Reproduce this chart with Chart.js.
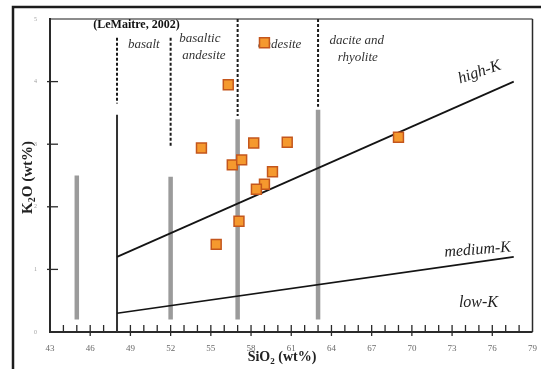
<!DOCTYPE html>
<html>
<head>
<meta charset="utf-8">
<script src="https://cdn.jsdelivr.net/npm/chart.js@4/dist/chart.umd.min.js"></script>
<style>
  html, body { margin: 0; padding: 0; background: #fff; }
  canvas { display: block; }
</style>
</head>
<body>
<canvas id="c" width="541" height="369"></canvas>
<script>
// Sample analyses: SiO2 vs K2O (wt%)
const sampleSiO2 = [59.0, 56.3, 54.3, 58.2, 60.7, 56.6, 57.3, 59.6, 59.0, 58.4, 57.1, 69.0, 55.4];
const sampleK2O  = [4.62, 3.95, 2.94, 3.02, 3.03, 2.67, 2.75, 2.56, 2.36, 2.28, 1.77, 3.11, 1.40];

// Series boundaries (straight segments)
const highKSiO2 = [48, 77.6];
const highKK2O  = [1.2, 4.0];
const mediumKSiO2 = [48, 77.6];
const mediumKK2O  = [0.3, 1.2];

// Rock-name field dividers (dashed part)
const dividerSiO2   = [48, 52, 57, 63];
const dividerTopK2O = [4.7, 4.7, 5.0, 5.0];
const dividerLowK2O = [3.65, 2.97, 3.45, 3.6];

// Solid divider below the basalt field edge
const baseLineSiO2 = [48];
const baseLineTopK2O = [3.47];

// Grey reference bars
const barSiO2   = [45, 52, 57, 63];
const barLowK2O = [0.2, 0.2, 0.2, 0.2];
const barTopK2O = [2.5, 2.48, 3.4, 3.55];

// Axis tick labels
const xTickLabels = [43, 46, 49, 52, 55, 58, 61, 64, 67, 70, 73, 76, 79];
const yTickLabels = [0, 1, 2, 3, 4, 5];

// Field and series names
const fieldNames = ['(LeMaitre, 2002)', 'basalt', 'basaltic', 'andesite', 'andesite', 'dacite and', 'rhyolite', 'high-K', 'medium-K', 'low-K'];

const SERIF = '"Liberation Serif", "DejaVu Serif", serif';

// where each name sits, in data units, with its font and rotation
const fieldLayout = [
  { x: 49.45, y: 4.90, font: 'bold 12px ' + SERIF, rot: 0, color: '#111' },
  { x: 50.0,  y: 4.585, font: 'italic 13px ' + SERIF, rot: 0, color: '#333' },
  { x: 54.18, y: 4.68, font: 'italic 13px ' + SERIF, rot: 0, color: '#333' },
  { x: 54.48, y: 4.42, font: 'italic 13px ' + SERIF, rot: 0, color: '#333' },
  { x: 60.14, y: 4.585, font: 'italic 13px ' + SERIF, rot: 0, color: '#333' },
  { x: 65.88, y: 4.66, font: 'italic 13px ' + SERIF, rot: 0, color: '#333' },
  { x: 65.96, y: 4.39, font: 'italic 13px ' + SERIF, rot: 0, color: '#333' },
  { x: 75.05, y: 4.15, font: 'italic 16px ' + SERIF, rot: -0.33, color: '#222' },
  { x: 74.9,  y: 1.31, font: 'italic 16px ' + SERIF, rot: -0.08, color: '#222' },
  { x: 74.97, y: 0.46, font: 'italic 16px ' + SERIF, rot: 0, color: '#222' }
];

function seg(xs, ys) { return xs.map((v, i) => ({ x: v, y: ys[i] })); }

const datasets = [];
datasets.push({
  label: 'samples',
  data: seg(sampleSiO2, sampleK2O),
  pointStyle: 'rect',
  pointRadius: 7,
  backgroundColor: '#f5992e',
  borderColor: '#c4561c',
  borderWidth: 1.5
});
[[highKSiO2, highKK2O], [mediumKSiO2, mediumKK2O]].forEach(([xs, ys]) => {
  datasets.push({ data: seg(xs, ys), showLine: true, pointRadius: 0, borderColor: '#141414', borderWidth: 1.7, fill: false });
});
dividerSiO2.forEach((v, i) => {
  datasets.push({ data: [{ x: v, y: dividerTopK2O[i] }, { x: v, y: dividerLowK2O[i] }], showLine: true, pointRadius: 0,
    borderColor: '#1a1a1a', borderWidth: 2, borderDash: [3, 2], fill: false });
});
baseLineSiO2.forEach((v, i) => {
  datasets.push({ data: [{ x: v, y: 0 }, { x: v, y: baseLineTopK2O[i] }], showLine: true, pointRadius: 0,
    borderColor: '#333', borderWidth: 2, fill: false });
});
barSiO2.forEach((v, i) => {
  datasets.push({ data: [{ x: v, y: barLowK2O[i] }, { x: v, y: barTopK2O[i] }], showLine: true, pointRadius: 0,
    borderColor: '#9b9b9b', borderWidth: 4.5, borderCapStyle: 'butt', fill: false });
});

function subText(ctx, parts, cx, cy, size) {
  // parts: [text, isSub]
  const widths = parts.map(([t, sub]) => {
    ctx.font = 'bold ' + (sub ? Math.round(size * 0.65) : size) + 'px ' + SERIF;
    return ctx.measureText(t).width;
  });
  const total = widths.reduce((a, b) => a + b, 0);
  let xx = cx - total / 2;
  parts.forEach(([t, sub], i) => {
    ctx.font = 'bold ' + (sub ? Math.round(size * 0.65) : size) + 'px ' + SERIF;
    ctx.fillText(t, xx, cy + (sub ? size * 0.3 : 0));
    xx += widths[i];
  });
}

const decor = {
  id: 'decor',
  beforeDatasetsDraw(chart) {
    const { ctx, scales: { x, y } } = chart;
    const L = x.getPixelForValue(43), R = x.getPixelForValue(79);
    const T = y.getPixelForValue(5), B = y.getPixelForValue(0);
    const line = (a, b, c, d) => { ctx.beginPath(); ctx.moveTo(a, b); ctx.lineTo(c, d); ctx.stroke(); };
    ctx.save();
    // outer frame
    ctx.strokeStyle = '#1c1c1c'; ctx.lineWidth = 2.5;
    ctx.beginPath(); ctx.moveTo(13, 369); ctx.lineTo(13, 7); ctx.lineTo(541, 7); ctx.stroke();
    // plot frame
    ctx.strokeStyle = '#8c8c8c'; ctx.lineWidth = 2; line(L, T, R, T);
    ctx.strokeStyle = '#2a2a2a'; ctx.lineWidth = 1.5; line(R, T, R, B);
    ctx.lineWidth = 2; line(L, T - 1, L, B + 1); line(L - 1, B, R, B);
    // tick marks
    ctx.lineWidth = 1.3;
    for (let v = 44; v < 79; v++) {
      const px = x.getPixelForValue(v);
      const major = (v - 43) % 3 === 0;
      line(px, B - 7, px, B + (major ? 4 : 0));
    }
    for (let v = 1; v < 5; v++) {
      const py = y.getPixelForValue(v);
      line(L - 3, py, L + 8, py);
    }
    // field and series names
    ctx.textAlign = 'center'; ctx.textBaseline = 'middle';
    fieldNames.forEach((t, i) => {
      const f = fieldLayout[i];
      ctx.save();
      ctx.translate(x.getPixelForValue(f.x), y.getPixelForValue(f.y));
      ctx.rotate(f.rot);
      ctx.font = f.font; ctx.fillStyle = f.color;
      ctx.fillText(t, 0, 0);
      ctx.restore();
    });
    // axis titles
    ctx.fillStyle = '#222'; ctx.textAlign = 'left'; ctx.textBaseline = 'middle';
    subText(ctx, [['SiO', false], ['2', true], [' (wt%)', false]], 282, 357, 14);
    ctx.save();
    ctx.translate(28, (T + B) / 2 + 2);
    ctx.rotate(-Math.PI / 2);
    subText(ctx, [['K', false], ['2', true], ['O (wt%)', false]], 0, 0, 15);
    ctx.restore();
    ctx.restore();
  }
};

new Chart(document.getElementById('c'), {
  type: 'scatter',
  data: { datasets },
  options: {
    responsive: false,
    animation: false,
    devicePixelRatio: 1,
    layout: { padding: { left: 0, right: 8, top: 19, bottom: 0 } },
    plugins: { legend: { display: false }, tooltip: { enabled: false } },
    scales: {
      x: {
        type: 'linear', min: 43, max: 79,
        grid: { display: false, drawTicks: false },
        border: { display: false },
        afterBuildTicks(s) { s.ticks = xTickLabels.map(v => ({ value: v })); },
        ticks: { autoSkip: false, maxRotation: 0, padding: 11, color: '#6a6a6a',
          font: { family: SERIF, size: 9 } },
        afterFit(s) { s.height = 37; s.paddingLeft = 0; s.paddingRight = 0; }
      },
      y: {
        type: 'linear', min: 0, max: 5,
        grid: { display: false, drawTicks: false },
        border: { display: false },
        afterBuildTicks(s) { s.ticks = yTickLabels.map(v => ({ value: v })); },
        ticks: { padding: 13, color: '#a0a0a0', font: { family: SERIF, size: 6 } },
        afterFit(s) { s.width = 50; s.paddingTop = 0; s.paddingBottom = 0; }
      }
    }
  },
  plugins: [decor]
});
</script>
</body>
</html>
